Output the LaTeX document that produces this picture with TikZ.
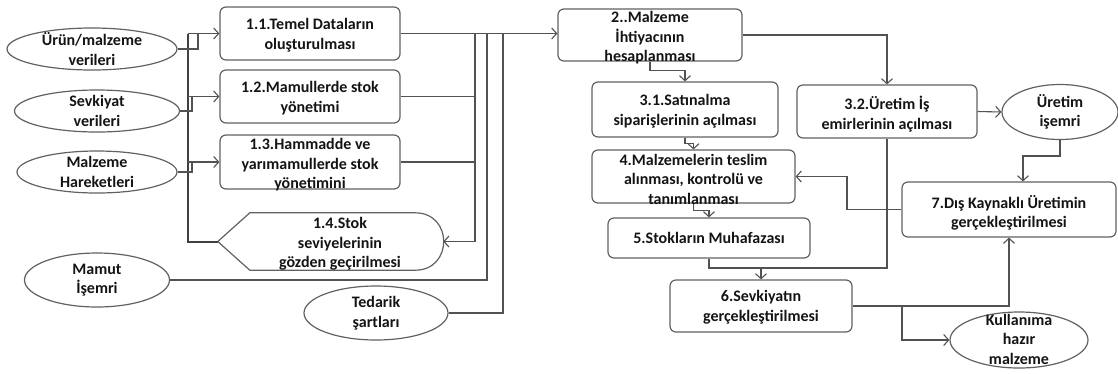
\documentclass[tikz,border=0pt]{standalone}
\usepackage{fontspec}
\setmainfont{Carlito}
\usetikzlibrary{arrows.meta,shapes.geometric,calc}
\begin{document}
\begin{tikzpicture}[x=1pt,y=-1pt,
  ln/.style={draw=black!68, line width=1.1pt},
  bus/.style={draw=black!75, line width=2pt},
  arr/.style={ln, -{Straight Barb[length=5pt,width=11pt]}},
  bx/.style 2 args={draw=black!62, line width=1.2pt, rounded corners=6pt, minimum width=#1pt, minimum height=#2pt, inner sep=0pt},
  ell/.style 2 args={ellipse, draw=black!62, line width=1.2pt, minimum width=#1pt, minimum height=#2pt, inner sep=0pt},
  txt/.style={font=\fontsize{16}{19.5}\selectfont\bfseries, align=center, text=black!92, inner sep=0pt},
  shp/.style={draw=black!62, line width=1.2pt}
]
\fill[white] (0,0) rectangle (1118,373);
\useasboundingbox (0,0) rectangle (1118,373);

% ellipses
\node[ell={170}{42}] (U) at (92,49) {};
\node[txt] (tU) at (U) {Ürün/malzeme\\verileri};
\node[ell={165}{42}] (S) at (97,111) {};
\node[txt] (tS) at (S) {Sevkiyat\\verileri};
\node[ell={160}{42}] (M) at (97,172) {};
\node[txt] (tM) at (M) {Malzeme\\Hareketleri};
\node[ell={145}{54}] (MI) at (97,280) {};
\node[txt] (tMI) at (MI) {Mamut\\İşemri};
\node[ell={144}{54}] (T) at (376,313) {};
\node[txt] (tT) at (T) {Tedarik\\şartları};
\node[ell={116}{55}] (UI) at (1060,112) {};
\node[txt] (tUI) at (UI) {Üretim\\işemri};
\node[ell={138}{56}] (K) at (1019,340) {};
\node[txt] (tK) at (1019,339) {Kullanıma\\hazır\\malzeme};

% boxes
\node[bx={180}{53}] (b11) at (310,33.5) {};
\node[txt] (t11) at (310,35) {1.1.Temel Dataların\\oluşturulması};
\node[bx={180}{53}] (b12) at (310,96.5) {};
\node[txt] (t12) at (310,98) {1.2.Mamullerde stok\\yönetimi};
\node[bx={180}{54}] (b13) at (310,162) {};
\node[txt] (t13) at (310,165) {1.3.Hammadde ve\\yarımamullerde stok\\yönetimini};

\node[minimum width=225pt, minimum height=57pt, inner sep=0pt] (d14) at (330.5,241.5) {};
\draw[shp] (d14.west) -- ([xshift=32pt]d14.north west) -- ([xshift=-28pt]d14.north east)
  .. controls ([xshift=10pt]d14.north east) and ([xshift=10pt]d14.south east) .. ([xshift=-28pt]d14.south east)
  -- ([xshift=32pt]d14.south west) -- cycle;
\node[txt] (t14) at (340,244) {1.4.Stok\\seviyelerinin\\gözden geçirilmesi};

\node[bx={184}{52}] (b2) at (650,35) {};
\node[txt] (t2) at (650,38) {2..Malzeme\\İhtiyacının\\hesaplanması};
\node[bx={186}{55}] (b31) at (685,109.5) {};
\node[txt] (t31) at (685,111) {3.1.Satınalma\\siparişlerinin açılması};
\node[bx={180}{53}] (b32) at (887,111.5) {};
\node[txt] (t32) at (887,114) {3.2.Üretim İş\\emirlerinin açılması};
\node[bx={203}{53}] (b4) at (693.5,176.5) {};
\node[txt] (t4) at (693.5,179) {4.Malzemelerin teslim\\alınması, kontrolü ve\\tanımlanması};
\node[bx={202}{40}] (b5) at (709,238) {};
\node[txt] (t5) at (709,238) {5.Stokların Muhafazası};
\node[bx={182}{52}] (b6) at (761,306) {};
\node[txt] (t6) at (761,307) {6.Sevkiyatın\\gerçekleştirilmesi};
\node[bx={214}{55}] (b7) at (1009,209.5) {};
\node[txt] (t7) at (1009,213) {7.Dış Kaynaklı Üretimin\\gerçekleştirilmesi};

% left bus
\coordinate (busT) at (188,33.5);
\coordinate (busB) at (188,241.5);
\coordinate (j1) at (198,33.5);
\coordinate (j2) at (192,96.5);
\coordinate (j3) at (192,162);
\draw[bus] (busT) -- (busB) -- (d14.west);
\draw[ln] (U.east) -| (j1);
\draw[ln] (S.east) -| (j2);
\draw[ln] (M.east) -| (j3);
\draw[arr] (busT) -- (b11.west);
\draw[arr] (busT |- b12.west) -- (b12.west);
\draw[arr] (busT |- b13.west) -- (b13.west);

% middle verticals
\coordinate (v1t) at (475,33.5);
\coordinate (v1b) at (475,241.5);
\coordinate (v2t) at (487,33.5);
\coordinate (v3t) at (503,33.5);
\draw[arr] (b11.east) -- (b2.west |- b11.east);
\draw[ln] (v1t) -- (v1b);
\draw[arr] (v1b) -- (d14.east);
\draw[ln] (b12.east) -- (b12.east -| v1t);
\draw[ln] (b13.east) -- (b13.east -| v1t);
\draw[ln] (v2t) |- (MI.east);
\draw[ln] (v3t) |- (T.east);

% right part
\draw[arr] (b2.east) -| (b32.north);
\draw[arr] (b2.south) -- ++(0,9) -| (b31.north);
\draw[arr] (b31.south) -- ++(0,6) -| (b4.north);
\draw[arr] (b4.south) -- ++(0,7) -| (b5.north);
\coordinate (j6) at (761,268);
\draw[ln] (b5.south) |- (j6);
\draw[arr] (j6) -- (b6.north);
\draw[ln] (b32.south) |- (j6);
\draw[arr] (b32.east) -- (UI.west);
\coordinate (j7) at (1060,156);
\draw[arr] (UI.south) -- (j7) -| ([xshift=14pt]b7.north);
\coordinate (j8) at (847,209.5);
\draw[arr] (b7.west) -- (j8) |- (b4.east);
\draw[arr] (b6.east) -| (b7.south);
\coordinate (j9) at (902,306);
\draw[arr] (j9) |- (K.west);
\end{tikzpicture}
\end{document}
